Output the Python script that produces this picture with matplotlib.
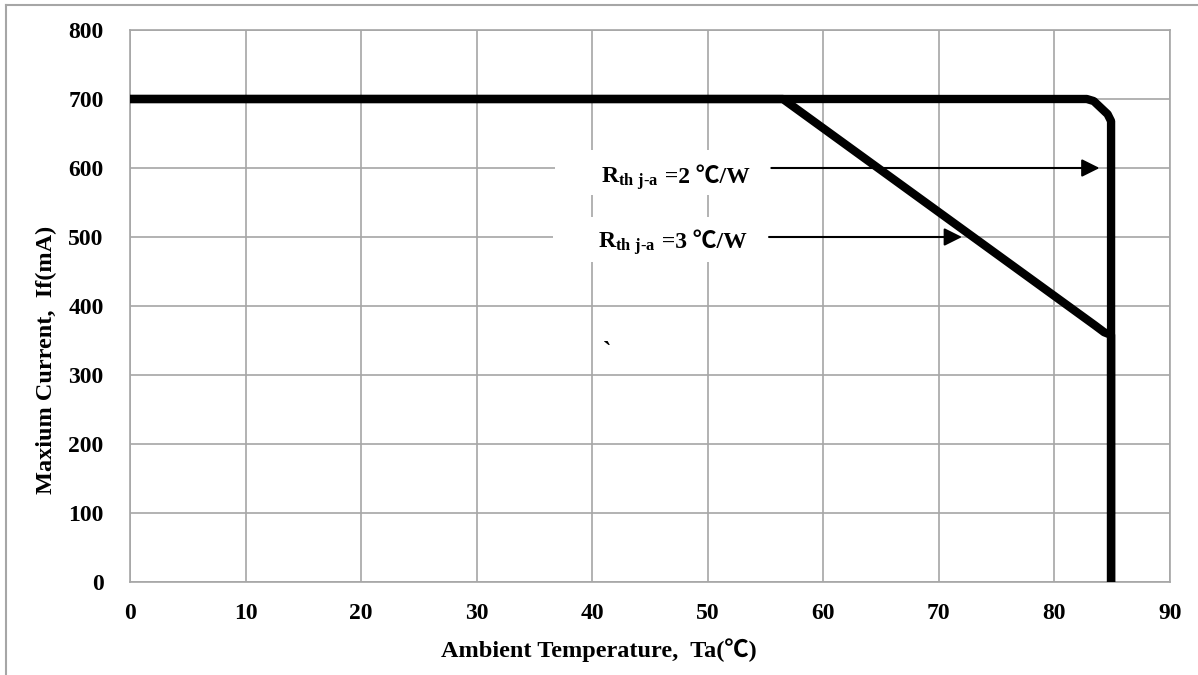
import matplotlib.pyplot as plt
from matplotlib.patches import Rectangle, FancyArrowPatch
from matplotlib.lines import Line2D

plt.rcParams['font.family'] = ['Liberation Serif', 'Noto Sans CJK SC', 'DejaVu Sans']
plt.rcParams['font.weight'] = 'bold'
plt.rcParams['mathtext.fontset'] = 'custom'
plt.rcParams['mathtext.rm'] = 'Liberation Serif:bold'
plt.rcParams['mathtext.it'] = 'Liberation Serif:bold'
plt.rcParams['mathtext.bf'] = 'Liberation Serif:bold'

# derating curves, Rth j-a = 2 and 3 C/W
t_2cw = [0, 82.8, 83.4, 84.6, 84.9, 84.9]
i_2cw = [700, 700, 697, 678, 668, 0]
t_3cw = [0, 56.5, 83.5, 84.3, 84.9, 84.9]
i_3cw = [700, 700, 372, 362, 358, 0]

labels = ['2', '3']
arrow_y = [600, 500]
arrow_x0 = [55.5, 55.3]
arrow_x1 = [83.9, 72.0]
text_x = [40.8, 40.5]
text_y = [578, 484]

xticks = list(range(0, 91, 10))
yticks = list(range(0, 801, 100))

fig = plt.figure(figsize=(11.98, 6.75), dpi=100)
ax = fig.add_axes([130/1198, 93/675, 1040/1198, 552/675])

grid_c = '#a6a6a6'
ax.set_xlim(0, 90)
ax.set_ylim(0, 800)
ax.set_xticks(xticks)
ax.set_yticks(yticks)
ax.grid(True, color=grid_c, linewidth=1.2, zorder=0)
ax.set_axisbelow(True)
for s in ax.spines.values():
    s.set_color(grid_c)
    s.set_linewidth(1.2)
ax.tick_params(length=0, labelsize=17)
ax.tick_params(axis='y', pad=19)
ax.tick_params(axis='x', pad=15)

# white label boxes hide the grid
ax.add_patch(Rectangle((36.8, 561), 19.4, 65, facecolor='white', edgecolor='none', zorder=1))
ax.add_patch(Rectangle((36.6, 464), 19.0, 65, facecolor='white', edgecolor='none', zorder=1))

ax.plot(t_2cw, i_2cw, color='black', linewidth=6, solid_joinstyle='round',
        solid_capstyle='butt', zorder=3)
ax.plot(t_3cw, i_3cw, color='black', linewidth=6, solid_joinstyle='round',
        solid_capstyle='butt', zorder=3)

for k in range(2):
    t1 = ax.text(text_x[k], text_y[k], r'R$_{\mathrm{th\ j\text{-}a}}$',
                 fontsize=17, fontweight='bold', va='baseline', ha='left', zorder=4)
    ax.annotate(' =' + labels[k] + ' ℃/W', xy=(1, text_y[k]), xycoords=(t1, 'data'),
                fontsize=17, fontweight='bold', va='baseline', ha='left', zorder=4)
    ax.add_patch(FancyArrowPatch((arrow_x0[k], arrow_y[k]), (arrow_x1[k], arrow_y[k]),
                                 arrowstyle='-|>', mutation_scale=27, color='black',
                                 linewidth=1.5, shrinkA=0, shrinkB=0, zorder=4))

ax.text(41.3, 333, '`', fontsize=18, ha='center', va='center')

fig.text(599/1198, 1 - 650/675, 'Ambient Temperature,  Ta(℃)', fontsize=17.5,
         fontweight='bold', ha='center', va='center')
fig.text(46/1198, 1 - 360/675, 'Maxium Current,  If(mA)', fontsize=17.5,
         fontweight='bold', ha='center', va='center', rotation=90)

fig.add_artist(Line2D([6/1198, 6/1198], [0, 1 - 5/675], color=grid_c, linewidth=1.5))
fig.add_artist(Line2D([6/1198, 1197/1198], [1 - 5/675, 1 - 5/675], color=grid_c, linewidth=1.5))

plt.savefig('out.png', dpi=100)
